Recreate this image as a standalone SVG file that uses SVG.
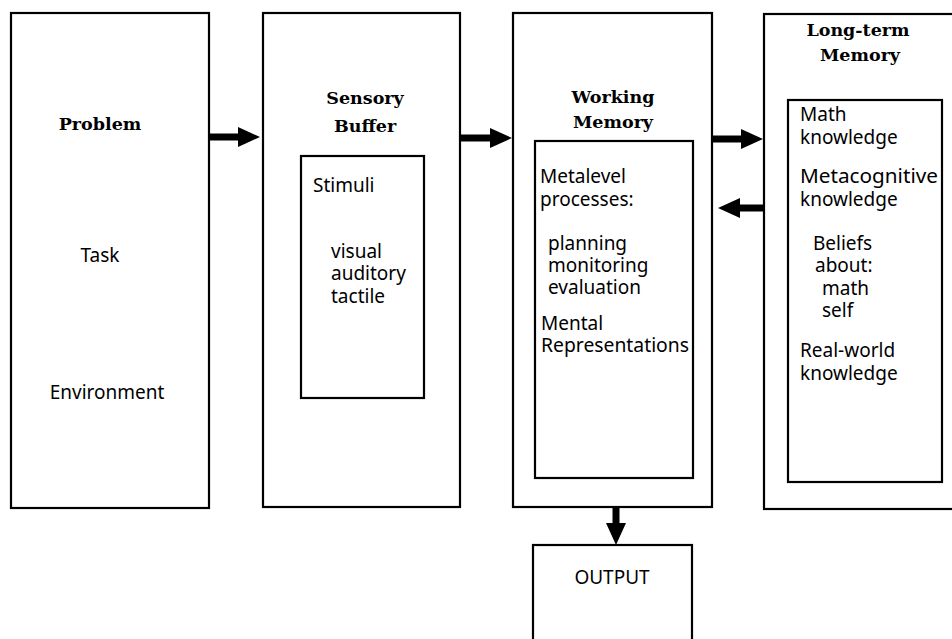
<svg xmlns="http://www.w3.org/2000/svg" width="952" height="639" viewBox="0 0 952 639">
  <style>
    .box { fill: none; stroke: #000; stroke-width: 2.2; }
    .head { font-family: "DejaVu Serif", "Liberation Serif", serif; font-weight: bold; font-size: 17.5px; fill: #000; text-anchor: middle; }
    .txt { font-family: "Noto Sans", "Open Sans", sans-serif; font-size: 19px; fill: #000; }
    .mid { text-anchor: middle; }
    .conn { stroke: #000; stroke-width: 7; fill: none; marker-end: url(#ah); }
  </style>
  <defs>
    <marker id="ah" markerUnits="userSpaceOnUse" viewBox="0 -10 22 20" refX="1" refY="0" markerWidth="22" markerHeight="20" orient="auto">
      <path d="M0,-10 L22,0 L0,10 Z" fill="#000"/>
    </marker>
  </defs>
  <rect width="952" height="639" fill="#fff"/>

  <g id="problem">
    <rect class="box" x="11" y="13" width="198" height="495"/>
    <text class="head" x="100" y="130">Problem</text>
    <text class="txt mid" x="100" y="262">Task</text>
    <text class="txt mid" x="107" y="399">Environment</text>
  </g>

  <g id="sensory-buffer">
    <rect class="box" x="263" y="13" width="197" height="494"/>
    <text class="head" x="365" y="104">Sensory</text>
    <text class="head" x="365" y="132">Buffer</text>
    <rect class="box" x="301" y="156" width="123" height="242"/>
    <text class="txt" x="313" y="192">Stimuli</text>
    <text class="txt" x="331" y="258">visual</text>
    <text class="txt" x="331" y="280">auditory</text>
    <text class="txt" x="331" y="303">tactile</text>
  </g>

  <g id="working-memory">
    <rect class="box" x="513" y="13" width="199" height="494"/>
    <text class="head" x="613" y="103">Working</text>
    <text class="head" x="613" y="128">Memory</text>
    <rect class="box" x="535" y="141" width="158" height="337"/>
    <text class="txt" x="540" y="183">Metalevel</text>
    <text class="txt" x="540" y="206">processes:</text>
    <text class="txt" x="548" y="250">planning</text>
    <text class="txt" x="548" y="272">monitoring</text>
    <text class="txt" x="548" y="294">evaluation</text>
    <text class="txt" x="541" y="330">Mental</text>
    <text class="txt" x="541" y="352" textLength="148" lengthAdjust="spacingAndGlyphs">Representations</text>
  </g>

  <g id="long-term-memory">
    <rect class="box" x="764" y="14" width="200" height="495"/>
    <text class="head" x="858" y="36">Long-term</text>
    <text class="head" x="860" y="61">Memory</text>
    <rect class="box" x="788" y="100" width="154" height="382"/>
    <text class="txt" x="800" y="121">Math</text>
    <text class="txt" x="800" y="144">knowledge</text>
    <text class="txt" x="800" y="183" textLength="138" lengthAdjust="spacingAndGlyphs">Metacognitive</text>
    <text class="txt" x="800" y="206">knowledge</text>
    <text class="txt" x="813" y="250">Beliefs</text>
    <text class="txt" x="815" y="272">about:</text>
    <text class="txt" x="822" y="295">math</text>
    <text class="txt" x="822" y="317">self</text>
    <text class="txt" x="800" y="357">Real-world</text>
    <text class="txt" x="800" y="380">knowledge</text>
  </g>

  <g id="output">
    <rect class="box" x="533" y="545" width="159" height="110"/>
    <text class="txt mid" x="612" y="584">OUTPUT</text>
  </g>

  <g id="connectors">
    <line class="conn" x1="209" y1="137" x2="239" y2="137"/>
    <line class="conn" x1="460" y1="138" x2="491" y2="138"/>
    <line class="conn" x1="712" y1="139" x2="742" y2="139"/>
    <line class="conn" x1="764" y1="208" x2="739" y2="208"/>
    <line class="conn" x1="616" y1="507" x2="616" y2="524"/>
  </g>
</svg>
